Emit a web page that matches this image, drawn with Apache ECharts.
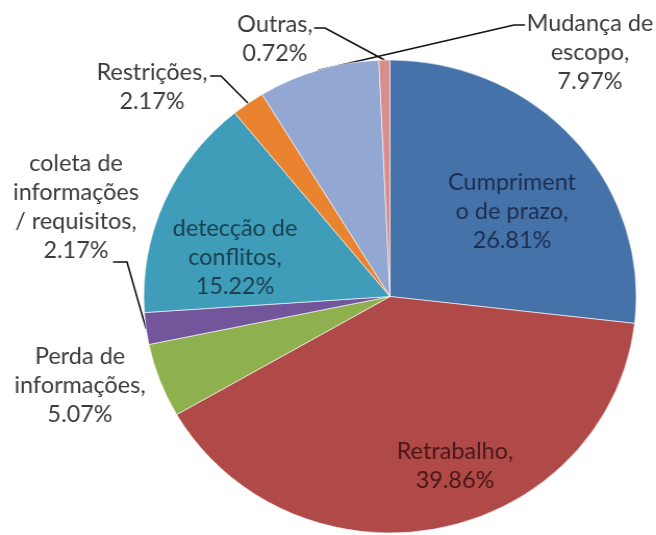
<!DOCTYPE html>
<html>
<head>
<meta charset="utf-8">
<script src="https://cdn.jsdelivr.net/npm/echarts@6/dist/echarts.min.js"></script>
<style>
html,body{margin:0;padding:0;background:#fff;overflow:hidden;}
#chart{width:630px;height:535px;transform:scaleX(1.04127);transform-origin:0 0;}
</style>
</head>
<body>
<div id="chart"></div>
<script>
// ---- data ----
const categories = ['Cumprimento de prazo', 'Retrabalho', 'Perda de informações', 'coleta de informações / requisitos', 'detecção de conflitos', 'Restrições', 'Mudança de escopo', 'Outras'];
const values = [26.81, 39.86, 5.07, 2.17, 15.22, 2.17, 7.97, 0.72];
const labelNames = ['Cumpriment\no de prazo', 'Retrabalho', 'Perda de\ninformações', 'coleta de\ninformações\n/ requisitos', 'detecção de\nconflitos', 'Restrições', 'Mudança de\nescopo', 'Outras'];

// ---- styles ----
const SX = 656 / 630; // horizontal stretch of the picture
const colors = ['#4672AA', '#AF4A48', '#8FB04E', '#73559B', '#409DBA', '#E9832F', '#92A7D1', '#D98C8C'];
const insideTextColors = {0: '#1C2E4E', 1: '#4A1616', 4: '#173F4D'};
// label placement (text centre) and leader tick [labelSide, tickEnd], in page pixels
const placement = [
  {x: 512, y: 212},
  {x: 455, y: 466},
  {x: 80, y: 386},
  {x: 76, y: 207, tick: [[113, 262], [127, 262]]},
  {x: 235, y: 258},
  {x: 152, y: 87, tick: [[210, 76], [221, 76]]},
  {x: 590, y: 53, tick: [[525, 25], [514, 25]]},
  {x: 275, y: 39, tick: [[314, 28], [325, 28]]}
];
const px = p => [p[0] / SX, p[1]];

const chart = echarts.init(document.getElementById('chart'), null, {renderer: 'canvas', width: 630, height: 535});
const data = categories.map((c, i) => {
  const inside = insideTextColors[i] !== undefined;
  return {
    name: c,
    value: values[i],
    itemStyle: {color: colors[i]},
    label: inside ? {position: 'inside', color: insideTextColors[i]} : {position: 'outside', color: '#3b3b3b'},
    labelLine: {show: !inside && i !== 2}
  };
});

chart.setOption({
  animation: false,
  backgroundColor: '#fff',
  series: [{
    type: 'pie',
    center: [390 / SX, 296.5],
    radius: 236.5,
    startAngle: 90,
    clockwise: true,
    avoidLabelOverlap: false,
    data: data,
    itemStyle: {borderColor: 'rgba(255,255,255,0.6)', borderWidth: 1},
    label: {
      fontFamily: 'Lato',
      fontSize: 22.5,
      lineHeight: 29,
      align: 'center',
      formatter: p => labelNames[p.dataIndex] + ',\n' + p.value.toFixed(2) + '%'
    },
    labelLine: {
      length: 10,
      length2: 10,
      lineStyle: {color: '#111', width: 1.6}
    },
    labelLayout: function (params) {
      const p = placement[params.dataIndex];
      const res = {x: p.x / SX, y: p.y, align: 'center', verticalAlign: 'middle'};
      if (p.tick && params.labelLinePoints && params.labelLinePoints[0]) {
        res.labelLinePoints = [params.labelLinePoints[0], px(p.tick[1]), px(p.tick[0])];
      }
      return res;
    }
  }]
});
</script>
</body>
</html>
